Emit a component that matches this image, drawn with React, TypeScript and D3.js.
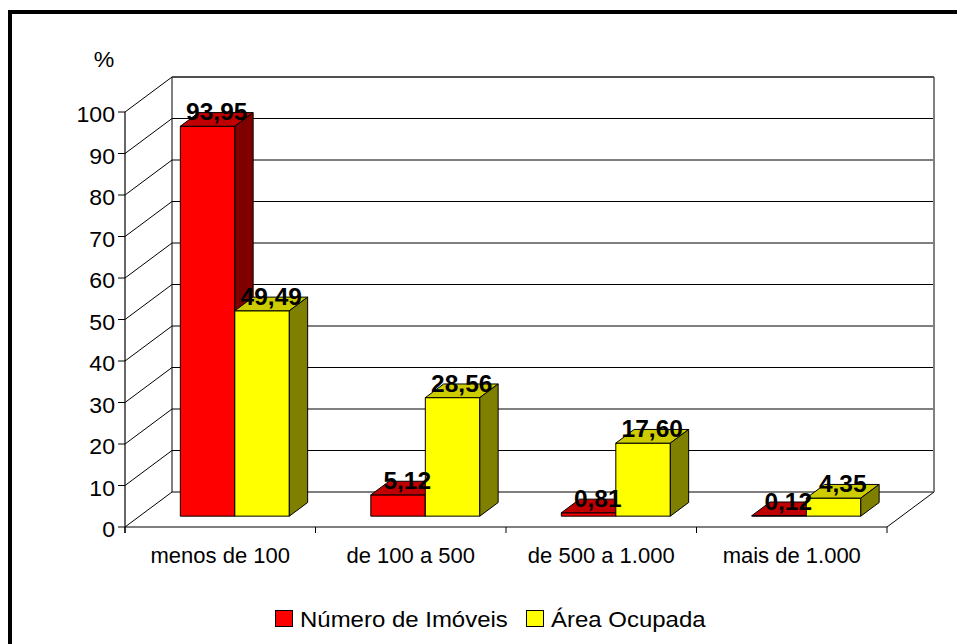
import React from "react";
import * as d3 from "d3";

const categories = ["menos de 100", "de 100 a 500", "de 500 a 1.000", "mais de 1.000"];
const numeroImoveis = [93.95, 5.12, 0.81, 0.12];
const areaOcupada = [49.49, 28.56, 17.6, 4.35];
const yTicks = [0, 10, 20, 30, 40, 50, 60, 70, 80, 90, 100];
const seriesNames = ["Número de Imóveis", "Área Ocupada"];

const W = 957;
const H = 644;
const FONT = "'Liberation Sans', Arial, sans-serif";

// depth projection of the 3D box
const DX = 47;
const DY = 35;
const F1 = 0.31;
const F2 = 0.7;

const x = d3.scaleBand<string>().domain(categories).range([125, 887]).paddingInner(0).paddingOuter(0);
const y = d3.scaleLinear().domain([0, 100]).range([527, 112]);

const fmt = (v: number) => d3.format(".2f")(v).replace(".", ",");

const P = (px: number, py: number, f: number) => [px + f * DX, py - f * DY];
const poly = (pts: number[][]) => pts.map((p) => p.join(",")).join(" ");

const seriesColors = [
  { front: "#FF0000", top: "#C00000", side: "#800000" },
  { front: "#FFFF00", top: "#CCCC00", side: "#808000" },
];

function Bar({ x0, w, v, c }: { x0: number; w: number; v: number; c: any }) {
  const y0 = y(0);
  const y1 = y(v);
  const a = P(x0, y0, F1), b = P(x0 + w, y0, F1), cc = P(x0 + w, y1, F1), d = P(x0, y1, F1);
  const e = P(x0, y1, F2), f = P(x0 + w, y1, F2), g = P(x0 + w, y0, F2);
  return (
    <g stroke="#000" strokeWidth={1} strokeLinejoin="round">
      <polygon points={poly([a, b, cc, d])} fill={c.front} />
      <polygon points={poly([d, cc, f, e])} fill={c.top} />
      <polygon points={poly([b, g, f, cc])} fill={c.side} />
    </g>
  );
}

function Label({ x0, w, v }: { x0: number; w: number; v: number }) {
  const fm = (F1 + F2) / 2;
  const [cx, cy] = P(x0 + w / 2, y(v), fm);
  return (
    <text
      transform={`translate(${cx},${cy + 1}) scale(1.02,1)`}
      textAnchor="middle"
      fontFamily={FONT}
      fontWeight="bold"
      fontSize={24}
      fill="#000"
    >
      {fmt(v)}
    </text>
  );
}

export default function App() {
  const bw = 54.5;
  const left = 125, right = 887;
  const [bl0x, bl0y] = P(left, y(0), 1);
  const [br0x] = P(right, y(0), 1);
  const topY = P(left, y(100), 1)[1];
  return (
    <svg width={W} height={H} style={{ position: "absolute", left: 0, top: 0, background: "#fff" }}>
      <rect x={0} y={0} width={W} height={H} fill="#fff" />
      {/* outer frame */}
      <line x1={10} y1={12} x2={W} y2={12} stroke="#000" strokeWidth={4} />
      <line x1={10} y1={10} x2={10} y2={H} stroke="#000" strokeWidth={4} />

      {/* back wall gridlines */}
      {yTicks.map((t) => {
        const [sx, sy] = P(left, y(t), 1);
        const [ex] = P(right, y(t), 1);
        return <line key={"g" + t} x1={sx} y1={sy} x2={ex} y2={sy} stroke="#000" strokeWidth={1} />;
      })}
      {/* side wall gridlines */}
      {yTicks.map((t) => {
        const [sx, sy] = P(left, y(t), 1);
        return <line key={"s" + t} x1={left} y1={y(t)} x2={sx} y2={sy} stroke="#000" strokeWidth={1} />;
      })}
      <line x1={bl0x} y1={bl0y} x2={bl0x} y2={topY} stroke="#000" strokeWidth={1} />
      <line x1={br0x} y1={bl0y} x2={br0x} y2={topY} stroke="#808080" strokeWidth={2} />
      <line x1={bl0x} y1={topY} x2={br0x} y2={topY} stroke="#404040" strokeWidth={1.5} />
      {/* floor */}
      <line x1={right} y1={y(0)} x2={br0x} y2={bl0y} stroke="#000" strokeWidth={1} />
      <line x1={left} y1={y(0)} x2={right} y2={y(0)} stroke="#000" strokeWidth={1.2} />
      {/* value axis */}
      <line x1={left} y1={y(0) + 6} x2={left} y2={y(100)} stroke="#000" strokeWidth={1.2} />
      {yTicks.map((t) => (
        <g key={"t" + t}>
          <line x1={left - 7} y1={y(t)} x2={left} y2={y(t)} stroke="#000" strokeWidth={1} />
          <text
            transform={`translate(${left - 10},${y(t) + 10}) scale(1.05,1)`}
            textAnchor="end"
            fontFamily={FONT}
            fontSize={22}
            fill="#000"
          >
            {t}
          </text>
        </g>
      ))}
      <text transform={`translate(104,67) scale(1.05,1)`} textAnchor="middle" fontFamily={FONT} fontSize={22}>
        %
      </text>

      {/* category ticks */}
      {[...categories.map((c) => x(c)!), right].map((tx, i) => (
        <line key={"ct" + i} x1={tx} y1={y(0)} x2={tx} y2={y(0) + 6} stroke="#000" strokeWidth={1} />
      ))}
      {categories.map((c) => (
        <text
          key={"cl" + c}
          transform={`translate(${x(c)! + x.bandwidth() / 2},563)`}
          textAnchor="middle"
          fontFamily={FONT}
          fontSize={22}
        >
          {c}
        </text>
      ))}

      {/* bars */}
      {categories.map((c, i) => {
        const cx = x(c)! + x.bandwidth() / 2;
        return (
          <g key={"b" + c}>
            <Bar x0={cx - bw} w={bw} v={numeroImoveis[i]} c={seriesColors[0]} />
            <Bar x0={cx} w={bw} v={areaOcupada[i]} c={seriesColors[1]} />
          </g>
        );
      })}
      {/* data labels */}
      {categories.map((c, i) => {
        const cx = x(c)! + x.bandwidth() / 2;
        return (
          <g key={"l" + c}>
            <Label x0={cx - bw} w={bw} v={numeroImoveis[i]} />
            <Label x0={cx} w={bw} v={areaOcupada[i]} />
          </g>
        );
      })}

      {/* legend */}
      <rect x={275.5} y={610.5} width={17} height={16} fill={seriesColors[0].front} stroke="#000" strokeWidth={1} />
      <text transform="translate(300,627) scale(1.09,1)" fontFamily={FONT} fontSize={22}>
        {seriesNames[0]}
      </text>
      <rect x={526.5} y={610.5} width={17} height={16} fill={seriesColors[1].front} stroke="#000" strokeWidth={1} />
      <text transform="translate(551,627) scale(1.09,1)" fontFamily={FONT} fontSize={22}>
        {seriesNames[1]}
      </text>
    </svg>
  );
}
